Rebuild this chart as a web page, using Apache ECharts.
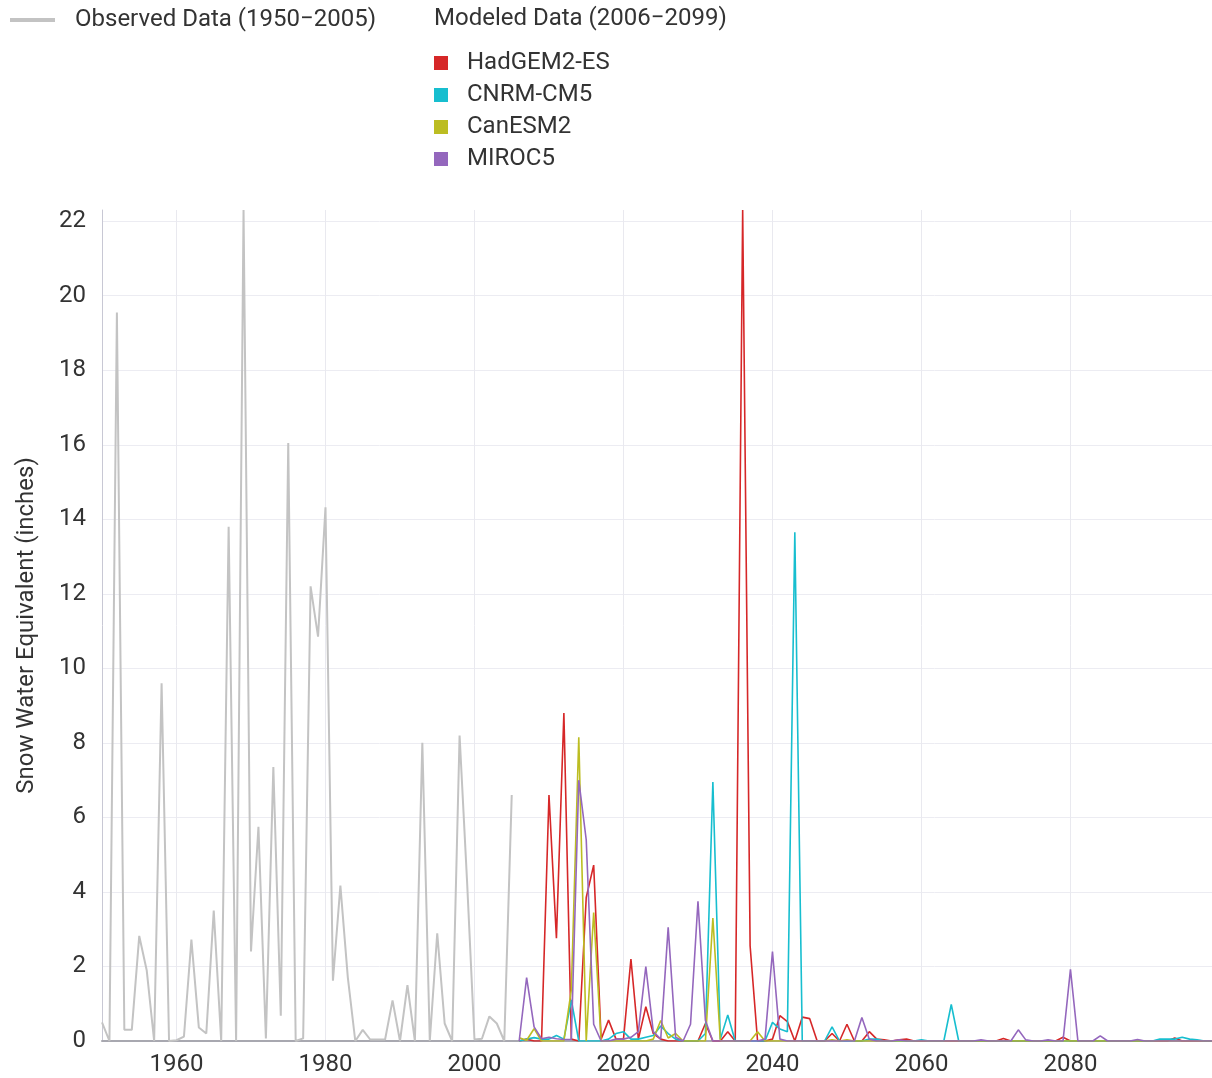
<!DOCTYPE html>
<html><head><meta charset="utf-8">
<script src="https://cdn.jsdelivr.net/npm/echarts@6/dist/echarts.min.js"></script>
<style>html,body{margin:0;padding:0;background:#fff}#c{width:1212px;height:1078px}</style>
</head><body><div id="c"></div>
<script>
// ---- data ----
const observedStart = 1950;
const observedName = 'Observed Data (1950\u22122005)';
const observed = [0.5,0,19.55,0.3,0.3,2.82,1.9,0,9.6,0,
  0.02,0.12,2.72,0.36,0.2,3.5,0,13.8,0,22.3,
  2.4,5.75,0.07,7.35,0.68,16.05,0,0.07,12.2,10.85,
  14.32,1.62,4.17,1.7,0,0.3,0.04,0.04,0.04,1.09,
  0,1.5,0,8.0,0,2.89,0.47,0,8.2,4.3,
  0.04,0.06,0.66,0.47,0,6.6];

const modeledStart = 2006;
const modeledTitle = 'Modeled Data (2006\u22122099)';
const modelNames = ['HadGEM2-ES','CNRM-CM5','CanESM2','MIROC5'];
const hadgem = [0,0.05,0,0,6.6,2.76,8.8,0.05,0,3.85,
  4.72,0.05,0.56,0.05,0.05,2.2,0.05,0.92,0.2,0.05,
  0,0,0,0,0,0.47,0,0,0.25,0,
  22.3,2.55,0,0,0.05,0.68,0.52,0,0.64,0.6,
  0,0,0.2,0,0.45,0,0,0.25,0.05,0.03,
  0,0.03,0.05,0,0,0,0,0,0,0,
  0,0,0,0,0,0.07,0,0,0,0,
  0,0,0,0.1,0,0,0,0,0,0,
  0,0,0,0,0,0,0,0,0.08,0,
  0,0,0,0];
const cnrm = [0,0.05,0.09,0.05,0.05,0.15,0.05,1.1,0,0,
  0,0,0.05,0.2,0.25,0.05,0.05,0.1,0.15,0.4,
  0.2,0.05,0,0,0,0.2,6.95,0.05,0.7,0,
  0,0,0,0,0.5,0.32,0.25,13.65,0,0,
  0,0,0.38,0,0,0,0,0.05,0.05,0,
  0,0,0,0,0.03,0,0,0,0.98,0,
  0,0,0,0,0,0,0,0,0,0,
  0,0,0,0,0,0,0,0,0,0,
  0,0,0,0,0,0,0.05,0.05,0.05,0.1,
  0.05,0.03,0,0];
const canesm = [0.09,0.02,0.33,0,0,0,0,1.37,8.15,0,
  3.45,0,0,0,0,0,0,0,0.05,0.55,
  0.08,0.2,0,0,0,0,3.3,0,0,0,
  0,0,0.25,0,0,0,0,0,0,0,
  0,0,0.03,0,0.03,0,0,0,0,0,
  0,0,0,0,0,0,0,0,0,0,
  0,0,0,0,0,0,0,0,0,0,
  0,0,0,0,0,0,0,0,0,0,
  0,0,0,0,0,0,0,0,0,0,
  0,0,0,0];
const miroc = [0,1.7,0.38,0.06,0.1,0.06,0.04,0.04,7.0,5.4,
  0.45,0,0,0.05,0.05,0.1,0.25,2.0,0.25,0.05,
  3.05,0.1,0,0.45,3.75,0.55,0,0,0,0,
  0,0,0,0.05,2.4,0.05,0,0,0,0,
  0,0,0,0,0,0,0.63,0.05,0,0,
  0,0.03,0,0,0,0,0,0,0,0,
  0,0,0.03,0,0,0,0,0.3,0.03,0,
  0,0.03,0,0,1.92,0,0,0,0.14,0,
  0,0,0,0.04,0,0,0,0,0,0,
  0,0,0,0];
const modelValues = [hadgem, cnrm, canesm, miroc];
const modelColors = ['#d62728','#17becf','#bcbd22','#9467bd'];
const observedColor = '#c3c3c3';
const xTicks = [1960,1980,2000,2020,2040,2060,2080];
const xMin = 1950, xMax = 2099;
const yMax = 22.3, yStep = 2;
const yName = 'Snow Water Equivalent (inches)';

function pairs(start, vals){ return vals.map((v,i)=>[start+i, v]); }

const FONT = 'Roboto';
const FS = 24;
const series = [{
  name: observedName, type:'line', data: pairs(observedStart, observed),
  showSymbol:false, lineStyle:{color:observedColor, width:2}, itemStyle:{color:observedColor},
  z: 2
}];
modelNames.forEach((n,i)=>{
  series.push({name:n, type:'line', data: pairs(modeledStart, modelValues[i]),
    showSymbol:false, lineStyle:{color:modelColors[i], width:1.6}, itemStyle:{color:modelColors[i]}, z:3});
});

const chart = echarts.init(document.getElementById('c'), null, {renderer:'canvas'});
chart.setOption({
  animation:false,
  backgroundColor:'#fff',
  title:{text: modeledTitle, left: 434, top: 7, padding:0,
    textStyle:{fontFamily:FONT, fontSize:FS, fontWeight:'normal', color:'#333'}},
  legend:[{
    data:[observedName], left: 10, top: 8, padding:0, icon:'rect', itemWidth:45, itemHeight:4,
    textStyle:{fontFamily:FONT, fontSize:FS, color:'#333', padding:[0,0,0,15]}
  },{
    data: modelNames, orient:'vertical', left: 434, top: 51, padding:0, icon:'rect', itemWidth:14, itemHeight:14,
    itemGap: 8,
    textStyle:{fontFamily:FONT, fontSize:FS, color:'#333', padding:[0,0,0,14]}
  }],
  grid:{left:102, right:0, top:210, bottom:37, containLabel:false},
  xAxis:{type:'value', min:xMin, max:xMax,
    axisLine:{show:true, onZero:false, lineStyle:{color:'#a8a8b0', width:2}},
    axisTick:{show:false, customValues: xTicks},
    axisLabel:{customValues: xTicks, fontFamily:FONT, fontSize:FS, color:'#333', margin:12,
      formatter: v => String(v)},
    splitLine:{show:true, lineStyle:{color:'#e9e9ef', width:1}}
  },
  yAxis:{type:'value', min:0, max:yMax, interval:yStep,
    name: yName, nameLocation:'middle', nameGap:63,
    nameTextStyle:{fontFamily:FONT, fontSize:FS, color:'#333'},
    axisLine:{show:true, lineStyle:{color:'#c8c8d4', width:1}},
    axisTick:{show:false},
    axisLabel:{fontFamily:FONT, fontSize:FS, color:'#333', margin:16, showMaxLabel:false},
    splitLine:{show:true, showMaxLine:false, lineStyle:{color:'#ececf2', width:1}}
  },
  series
});
</script></body></html>
